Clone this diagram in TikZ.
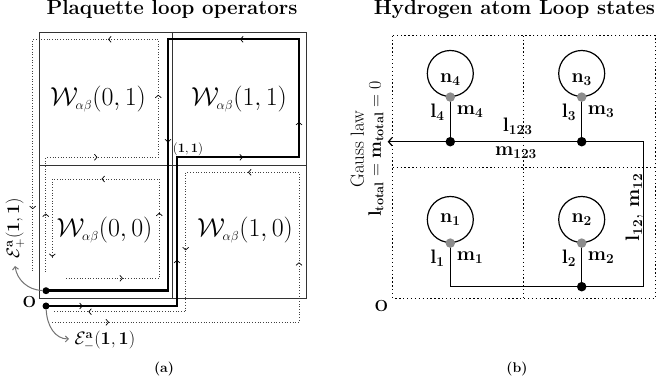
\documentclass[tikz,border=0pt]{standalone}
\usepackage{fix-cm}
\usetikzlibrary{decorations.markings,arrows.meta}
\begin{document}
\begin{tikzpicture}[x=1pt,y=-1pt,
  mytip/.tip={Straight Barb[length=2.6pt,width=6pt,line width=0.7pt]},
  ma/.style={postaction={decorate},decoration={markings,mark=at position #1 with {\arrow[black,solid]{mytip}}}},
  gridline/.style={line width=0.8pt,draw=black!80},
  loopline/.style={line width=0.7pt,draw=black!75,dotted},
  thickpath/.style={line width=2.4pt,line join=miter,draw=black},
  bdotl/.style={circle,fill=black,inner sep=0pt,minimum size=7pt},
  bdot/.style={circle,fill=black,inner sep=0pt,minimum size=9.5pt},
  gdot/.style={circle,fill=black!45,inner sep=0pt,minimum size=9.5pt},
  ring/.style={circle,draw,line width=1.2pt,inner sep=0pt,minimum size=46pt},
  wire/.style={line width=1.2pt},
  bgrid/.style={line width=1.3pt,dash pattern=on 1.3pt off 2.6pt},
  ttl/.style={font=\fontsize{20.5}{24}\selectfont\bfseries,anchor=base},
  wlab/.style={font=\fontsize{26}{30}\selectfont},
  rlab/.style={font=\fontsize{19.5}{23}\selectfont},
  elab/.style={font=\fontsize{18}{21}\selectfont},
  captext/.style={font=\fontsize{14}{16}\selectfont\bfseries}
]
\useasboundingbox (0,0) rectangle (662,387);

% ---------------- titles ----------------
\node[ttl] (ta) at (172,15) {Plaquette loop operators};
\node[ttl] (tb) at (514.5,15) {Hydrogen atom Loop states};
\node[captext] (capa) at (164,369) {(a)};
\node[captext] (capb) at (517,369) {(b)};

% ---------------- panel (a) ----------------
\draw[gridline] (39,32) rectangle (306,298);
\draw[gridline] (172,32) -- (172,298);
\draw[gridline] (39,165) -- (306,165);

% dotted loop around (0,1)
\coordinate (A1) at (45.7,272);
\coordinate (A2) at (45.7,157.3);
\coordinate (A3) at (158.3,157.3);
\coordinate (A4) at (158.3,39.3);
\coordinate (A5) at (32.7,39.3);
\coordinate (A6) at (32.7,272);
\draw[loopline] (A1) -- (A2) -- (A3) -- (A4) -- (A5) -- (A6);
\path[ma=0.51] (A1) -- (A2);
\path[ma=0.46] (A2) -- (A3);
\path[ma=0.53] (A3) -- (A4);
\path[ma=0.40] (A4) -- (A5);
\path[ma=0.73] (A5) -- (A6);

% dotted loop around (0,0)
\coordinate (B1) at (66,278.3);
\coordinate (B2) at (159.3,278.3);
\coordinate (B3) at (159.3,179);
\coordinate (B4) at (52.3,179);
\coordinate (B5) at (52.3,257.7);
\draw[loopline] (B1) -- (B2) -- (B3) -- (B4) -- (B5);
\path[ma=0.61] (B1) -- (B2);
\path[ma=0.66] (B2) -- (B3);
\path[ma=0.54] (B3) -- (B4);
\path[ma=0.99] (B4) -- (B5);

% dotted loop around (1,0)
\coordinate (C1) at (52.3,322.3);
\coordinate (C2) at (299,322.3);
\coordinate (C3) at (299,172.3);
\coordinate (C4) at (185.7,172.3);
\coordinate (C5) at (185.7,311.7);
\coordinate (C6) at (52.3,311.7);
\draw[loopline] (C1) -- (C2) -- (C3) -- (C4) -- (C5) -- (C6);
\path[ma=0.23] (C1) -- (C2);
\path[ma=0.40] (C2) -- (C3);
\path[ma=0.45] (C3) -- (C4);
\path[ma=0.56] (C4) -- (C5);
\path[ma=0.73] (C5) -- (C6);

% thick loop (1,1)
\coordinate (O) at (46,306);
\coordinate (T1) at (177,306);
\coordinate (T2) at (177,157.3);
\coordinate (T3) at (299,157.3);
\coordinate (T4) at (299,39.3);
\coordinate (T5) at (168,39.3);
\coordinate (T6) at (168,290.7);
\coordinate (Ep) at (46,290.7);
\draw[thickpath] (O) -- (T1) -- (T2) -- (T3) -- (T4) -- (T5) -- (T6) -- (Ep);
\path[ma=0.28] (O) -- (T1);
\path[ma=0.31] (T1) -- (T2);
\path[ma=0.54] (T2) -- (T3);
\path[ma=0.30] (T3) -- (T4);
\path[ma=0.45] (T4) -- (T5);
\path[ma=0.41] (T5) -- (T6);
\node[bdotl] (dO) at (O) {};
\node[bdotl] (dEp) at (Ep) {};

% labels
\node[wlab] (w01) at (98,99) {$\mathcal{W}_{\scriptscriptstyle\alpha\beta}(0,1)$};
\node[wlab] (w11) at (239,99) {$\mathcal{W}_{\scriptscriptstyle\alpha\beta}(1,1)$};
\node[wlab] (w00) at (104.5,230) {$\mathcal{W}_{\scriptscriptstyle\alpha\beta}(0,0)$};
\node[wlab] (w10) at (245,230) {$\mathcal{W}_{\scriptscriptstyle\alpha\beta}(1,0)$};
\node[font=\fontsize{13}{15}\selectfont] (p11) at (188,149) {$(\mathbf{1},\mathbf{1})$};
\node[font=\fontsize{16}{18}\selectfont\bfseries] (Olab) at (29.5,302.5) {O};

\node[elab,rotate=90] (Epl) at (15,228) {$\mathcal{E}^{\mathbf{a}}_{+}(\mathbf{1},\mathbf{1})$};
\node[elab,anchor=west] (Eml) at (71,341) {$\mathcal{E}^{\mathbf{a}}_{-}(\mathbf{1},\mathbf{1})$};
\coordinate (EpT) at (15,266);
\coordinate (EmT) at (69,339);
\draw[black!55,line width=1pt,-{Straight Barb[length=3pt,width=6pt]}] (dEp) .. controls (28,290) and (17,280) .. (EpT);
\draw[black!55,line width=1pt,-{Straight Barb[length=3pt,width=6pt]}] (dO) .. controls (47,326) and (55,339) .. (EmT);

% ---------------- panel (b) ----------------
\draw[bgrid] (392.7,35.7) rectangle (655.3,298.3);
\draw[bgrid] (523.7,35.7) -- (523.7,298.3);
\draw[bgrid] (392.7,167.5) -- (655.3,167.5);

\node[ring] (c4) at (450.3,73.5) {};
\node[ring] (c3) at (581.7,73.5) {};
\node[ring] (c1) at (450.3,219.5) {};
\node[ring] (c2) at (581.7,219.5) {};

\coordinate (g4) at (c4.south);
\coordinate (g3) at (c3.south);
\coordinate (g1) at (c1.south);
\coordinate (g2) at (c2.south);
\coordinate (b4) at (450.3,141.7);
\coordinate (b3) at (581.7,141.7);
\coordinate (b2) at (581.7,286.7);
\coordinate (k1) at (643.7,141.7);
\coordinate (k2) at (643.7,286.7);
\coordinate (k3) at (450.3,286.7);
\coordinate (aend) at (387.7,141.7);

\draw[wire] (g4) -- (b4);
\draw[wire] (g3) -- (b3);
\draw[wire] (g2) -- (b2);
\draw[wire,-{Straight Barb[length=3.5pt,width=8pt]}] (g1) -- (k3) -- (k2) -- (k1) -- (b3) -- (b4) -- (aend);

\node[gdot] at (g4) {};
\node[gdot] at (g3) {};
\node[gdot] at (g1) {};
\node[gdot] at (g2) {};
\node[bdot] at (b4) {};
\node[bdot] at (b3) {};
\node[bdot] at (b2) {};

\node[rlab] (n4) at (450.3,80) {$\mathbf{n_4}$};
\node[rlab] (n3) at (581.7,80) {$\mathbf{n_3}$};
\node[rlab] (n1) at (450.3,219.5) {$\mathbf{n_1}$};
\node[rlab] (n2) at (581.7,219.5) {$\mathbf{n_2}$};

\node[rlab] (l4) at (437.5,112) {$\mathbf{l_4}$};
\node[rlab] (m4) at (470,112) {$\mathbf{m_4}$};
\node[rlab] (l3) at (569,112) {$\mathbf{l_3}$};
\node[rlab] (m3) at (601,112) {$\mathbf{m_3}$};
\node[rlab] (l1) at (437.5,258) {$\mathbf{l_1}$};
\node[rlab] (m1) at (470,258) {$\mathbf{m_1}$};
\node[rlab] (l2) at (569,258) {$\mathbf{l_2}$};
\node[rlab] (m2) at (601,258) {$\mathbf{m_2}$};

\node[rlab] (l123) at (517.7,126) {$\mathbf{l_{123}}$};
\node[rlab] (m123) at (516,153) {$\mathbf{m_{123}}$};
\node[rlab,rotate=90] (lm12) at (634.3,207.5) {$\mathbf{l_{12}},\,\mathbf{m_{12}}$};

\node[font=\fontsize{18}{20}\selectfont,rotate=90,align=center] (gauss) at (367,149) {{\fontsize{19}{21}\selectfont Gauss law}\\[-3pt] $\mathbf{l_{total}} = \mathbf{m_{total}} = 0$};
\node[font=\fontsize{16}{18}\selectfont\bfseries] (Olabb) at (381.3,306) {O};
\end{tikzpicture}
\end{document}
